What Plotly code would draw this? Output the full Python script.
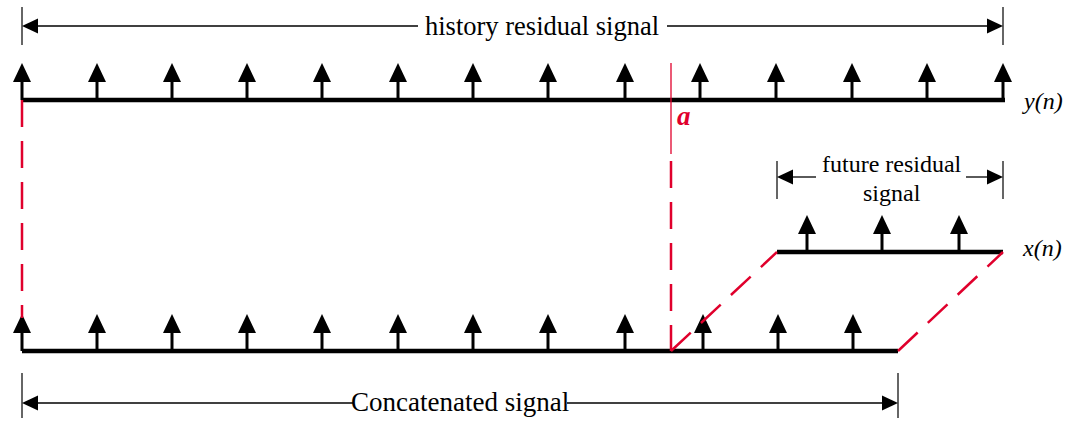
import plotly.graph_objects as go

# sample positions (pixel-like units on a 1068 x 422 canvas)
history_samples = [22, 97, 172, 247, 322, 398, 473, 548, 625, 700, 776, 852, 927, 1003]
concat_samples = [22, 97, 172, 247, 322, 398, 473, 548, 625, 703, 778, 853]
future_samples = [807, 882, 959]

y_line = dict(x0=22, x1=1005, y=100, label="y(n)")
x_line = dict(x0=777, x1=1003, y=252, label="x(n)")
c_line = dict(x0=22, x1=898, y=351)
split_a = 671

BLACK = "#000000"
RED = "#e0002c"
FONT = "Liberation Serif"

shapes = []


def sample_arrow(x, base, h=37, head=19, half=9):
    shapes.append(dict(type="line", x0=x, x1=x, y0=base, y1=base - h + head,
                       line=dict(color=BLACK, width=3)))
    top = base - h
    hb = base - h + head
    shapes.append(dict(type="path",
                       path=f"M {x - half},{hb} L {x + half},{hb} L {x},{top} Z",
                       fillcolor=BLACK, line=dict(color=BLACK, width=0)))


def dim_arrow(x0, x1, y, t0, t1, gap=None, hl=16, hh=7.5):
    shapes.append(dict(type="line", x0=x0, x1=x0, y0=t0, y1=t1, line=dict(color="#333", width=1.5)))
    shapes.append(dict(type="line", x0=x1, x1=x1, y0=t0, y1=t1, line=dict(color="#333", width=1.5)))
    if gap:
        shapes.append(dict(type="line", x0=x0 + hl, x1=gap[0], y0=y, y1=y, line=dict(color=BLACK, width=1.3)))
        shapes.append(dict(type="line", x0=gap[1], x1=x1 - hl, y0=y, y1=y, line=dict(color=BLACK, width=1.3)))
    else:
        shapes.append(dict(type="line", x0=x0 + hl, x1=x1 - hl, y0=y, y1=y, line=dict(color=BLACK, width=1.3)))
    shapes.append(dict(type="path", path=f"M {x0},{y} L {x0 + hl},{y - hh} L {x0 + hl},{y + hh} Z",
                       fillcolor=BLACK, line=dict(width=0)))
    shapes.append(dict(type="path", path=f"M {x1},{y} L {x1 - hl},{y - hh} L {x1 - hl},{y + hh} Z",
                       fillcolor=BLACK, line=dict(width=0)))


# baselines
for ln in (y_line, x_line, c_line):
    shapes.append(dict(type="line", x0=ln["x0"], x1=ln["x1"], y0=ln["y"], y1=ln["y"],
                       line=dict(color=BLACK, width=4.5)))

for s in history_samples:
    sample_arrow(s, y_line["y"])
for s in concat_samples:
    sample_arrow(s, c_line["y"])
for s in future_samples:
    sample_arrow(s, x_line["y"])

# red guide lines (on top of the signals)
dash = "27px,14px"
shapes.append(dict(type="line", x0=22, x1=22, y0=100, y1=318, line=dict(color=RED, width=2.5, dash=dash)))
shapes.append(dict(type="line", x0=split_a, x1=split_a, y0=63, y1=154, line=dict(color=RED, width=1.3)))
shapes.append(dict(type="line", x0=split_a, x1=split_a, y0=161, y1=351, line=dict(color=RED, width=2.5, dash=dash)))
shapes.append(dict(type="line", x0=split_a, x1=x_line["x0"], y0=c_line["y"], y1=x_line["y"],
                   line=dict(color=RED, width=2.5, dash=dash)))
shapes.append(dict(type="line", x0=c_line["x1"], x1=x_line["x1"], y0=c_line["y"], y1=x_line["y"],
                   line=dict(color=RED, width=2.5, dash=dash)))

# dimension arrows
dim_arrow(22, 1003, 26, 7, 45, gap=(418, 667))
dim_arrow(777, 1003, 177, 161, 199, gap=(816, 966))
dim_arrow(22, 898, 403, 373, 418, gap=(353, 567))

annotations = [
    dict(x=542, y=26, text="history residual signal", showarrow=False,
         font=dict(family=FONT, size=26.5, color=BLACK)),
    dict(x=892, y=164, text="future residual", showarrow=False,
         font=dict(family=FONT, size=24, color=BLACK)),
    dict(x=892, y=193, text="signal", showarrow=False,
         font=dict(family=FONT, size=24, color=BLACK)),
    dict(x=460, y=402, text="Concatenated signal", showarrow=False,
         font=dict(family=FONT, size=27, color=BLACK)),
    dict(x=1042, y=101, text="<i>y(n)</i>", showarrow=False,
         font=dict(family=FONT, size=24, color=BLACK)),
    dict(x=1042, y=248, text="<i>x(n)</i>", showarrow=False,
         font=dict(family=FONT, size=24, color=BLACK)),
    dict(x=684, y=116, text="<b><i>a</i></b>", showarrow=False,
         font=dict(family=FONT, size=27, color=RED)),
]

fig = go.Figure()
fig.update_layout(
    width=1068, height=422,
    margin=dict(l=0, r=0, t=0, b=0),
    paper_bgcolor="white", plot_bgcolor="white",
    xaxis=dict(range=[0, 1068], visible=False, fixedrange=True),
    yaxis=dict(range=[422, 0], visible=False, fixedrange=True),
    shapes=shapes, annotations=annotations, showlegend=False,
)
fig.write_html("out.html", config={"displayModeBar": False},
               post_script="document.body.style.margin='0px';")
